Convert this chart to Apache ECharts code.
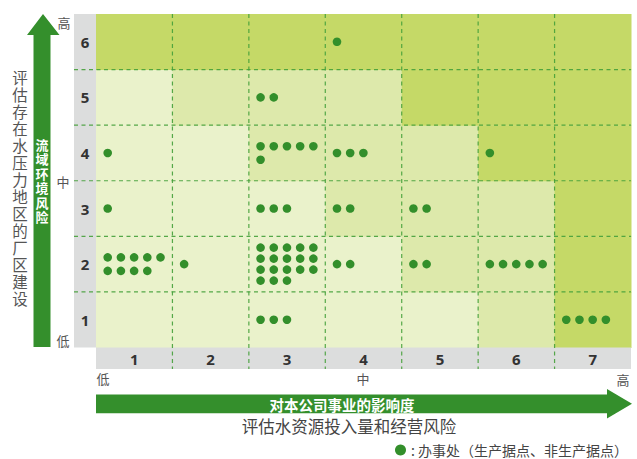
<!DOCTYPE html>
<html>
<head>
<meta charset="utf-8">
<script src="https://cdn.jsdelivr.net/npm/echarts@6/dist/echarts.min.js"></script>
<style>html,body{margin:0;padding:0;background:#fff;}#c{width:637px;height:459px;}</style>
</head>
<body>
<div id="c"></div>
<script>
// ---- data ----
const xLabels = ['1', '2', '3', '4', '5', '6', '7'];
const yLabels = ['1', '2', '3', '4', '5', '6'];
// shade level per cell, row 1 (bottom) to row 6 (top); 0 light, 1 medium, 2 dark
const shadeRow1 = [0, 0, 0, 0, 0, 1, 2];
const shadeRow2 = [0, 0, 0, 0, 1, 1, 2];
const shadeRow3 = [0, 0, 0, 1, 1, 1, 2];
const shadeRow4 = [0, 0, 1, 1, 1, 2, 2];
const shadeRow5 = [0, 1, 1, 1, 2, 2, 2];
const shadeRow6 = [2, 2, 2, 2, 2, 2, 2];
// [column, row, number of offices]
const officeCounts = [
  [4, 6, 1],
  [3, 5, 2],
  [1, 4, 1], [3, 4, 6], [4, 4, 3], [6, 4, 1],
  [1, 3, 1], [3, 3, 3], [4, 3, 2], [5, 3, 2],
  [1, 2, 9], [2, 2, 1], [3, 2, 18], [4, 2, 2], [5, 2, 2], [6, 2, 5],
  [3, 1, 3], [7, 1, 4]
];
const yAxisTitle = '评估存在水压力地区的厂区建设';
const yArrowText = '流域环境风险';
const xArrowText = '对本公司事业的影响度';
const xAxisTitle = '评估水资源投入量和经营风险';
const legendName = ': 办事处（生产据点、非生产据点）';

// ---- styles ----
const shadeColors = ['#eaf2cb', '#dde9ab', '#c5d967'];
const dotColor = '#338f2b';
const arrowColor = '#348f2c';
const lineColor = '#45a03a';
const bandColor = '#dcdddd';
const cjk = "'Noto Sans CJK SC', 'Noto Sans', sans-serif";

const shadeRows = [shadeRow1, shadeRow2, shadeRow3, shadeRow4, shadeRow5, shadeRow6];
const cellData = [];
shadeRows.forEach((row, r) => row.forEach((v, c) => cellData.push([c, r, v])));
const dotData = officeCounts.map(d => [d[0] - 1, d[1] - 1, d[2]]);

// vertical (stacked) text, one element per character
function verticalText(str, cx, top, step, style) {
  return str.split('').map((ch, i) => ({
    type: 'text', z: 10,
    style: Object.assign({text: ch, x: cx, y: top + i * step + step / 2, align: 'center', verticalAlign: 'middle', fontFamily: cjk}, style)
  }));
}

const chart = echarts.init(document.getElementById('c'), null, {renderer: 'svg'});

const option = {
  animation: false,
  grid: {left: 96, top: 14, right: 6, bottom: 111.5},
  xAxis: {
    type: 'category', data: xLabels, z: 5,
    axisLine: {show: false}, axisTick: {show: false}, splitLine: {show: false},
    axisLabel: {margin: 4, fontSize: 15, fontWeight: 'bold', color: '#333', fontFamily: "'Noto Sans', sans-serif"}
  },
  yAxis: {
    type: 'category', data: yLabels, z: 5,
    axisLine: {show: false}, axisTick: {show: false}, splitLine: {show: false},
    axisLabel: {margin: 11, align: 'center', fontSize: 15, fontWeight: 'bold', color: '#333', fontFamily: "'Noto Sans', sans-serif"}
  },
  legend: {
    left: 395, top: 443, padding: 0, selectedMode: false,
    itemWidth: 11, itemHeight: 11, itemGap: 0,
    data: [{name: legendName, icon: 'circle'}],
    textStyle: {fontSize: 14, color: '#444', fontFamily: cjk}
  },
  series: [
    {
      type: 'custom', name: 'cells', z: 1, data: cellData,
      renderItem: function (params, api) {
        const p = api.coord([api.value(0), api.value(1)]);
        const s = api.size([1, 1]);
        return {
          type: 'rect',
          shape: {x: p[0] - s[0] / 2, y: p[1] - s[1] / 2, width: s[0] + 0.5, height: s[1] + 0.5},
          style: {fill: shadeColors[api.value(2)]}
        };
      }
    },
    {
      type: 'custom', name: 'frame', z: 2, data: [[0, 0]], clip: false,
      renderItem: function (params, api) {
        const s = api.size([1, 1]);
        const p0 = api.coord([0, 0]);
        const p1 = api.coord([xLabels.length - 1, yLabels.length - 1]);
        const gl = p0[0] - s[0] / 2, gb = p0[1] + s[1] / 2;
        const gr = p1[0] + s[0] / 2, gt = p1[1] - s[1] / 2;
        const bandW = 22, bandH = 21.5;
        const children = [
          {type: 'rect', shape: {x: gl - bandW, y: gt, width: bandW, height: gb - gt}, style: {fill: bandColor}},
          {type: 'rect', shape: {x: gl, y: gb, width: gr - gl, height: bandH}, style: {fill: bandColor}}
        ];
        const ls = {stroke: lineColor, lineWidth: 1.2, lineDash: [4, 3.5], opacity: 0.9};
        for (let i = 1; i < xLabels.length; i++) {
          const x = gl + i * s[0];
          children.push({type: 'line', shape: {x1: x, y1: gt, x2: x, y2: gb + bandH}, style: ls});
        }
        for (let j = 1; j < yLabels.length; j++) {
          const y = gb - j * s[1];
          children.push({type: 'line', shape: {x1: gl - bandW, y1: y, x2: gr, y2: y}, style: ls});
        }
        return {type: 'group', children: children};
      }
    },
    {
      type: 'custom', name: legendName, z: 3, data: dotData,
      itemStyle: {color: dotColor},
      renderItem: function (params, api) {
        const p = api.coord([api.value(0), api.value(1)]);
        const s = api.size([1, 1]);
        const n = api.value(2);
        const left = p[0] - s[0] / 2;
        const rows = Math.ceil(n / 5);
        const gap = rows > 3 ? 11 : 13.5;
        const y0 = p[1] - (rows - 1) * gap / 2;
        const children = [];
        for (let k = 0; k < n; k++) {
          children.push({
            type: 'circle',
            shape: {cx: left + 11.7 + (k % 5) * 13.2, cy: y0 + Math.floor(k / 5) * gap, r: 4.3},
            style: {fill: dotColor}
          });
        }
        return {type: 'group', children: children};
      }
    }
  ],
  graphic: [
    // vertical arrow
    {type: 'polygon', shape: {points: [[33.5, 347], [33.5, 35], [27, 35], [43, 14], [59.5, 35], [50.5, 35], [50.5, 347]]}, style: {fill: arrowColor}},
    // horizontal arrow
    {type: 'polygon', shape: {points: [[96, 394.5], [607, 394.5], [607, 389], [632, 403.8], [607, 418.5], [607, 413.3], [96, 413.3]]}, style: {fill: arrowColor}},
    {type: 'text', z: 10, style: {text: xArrowText, x: 342, y: 404, fill: '#fff', fontSize: 14.5, fontWeight: 'bold', align: 'center', verticalAlign: 'middle', fontFamily: cjk}},
    {type: 'text', style: {text: xAxisTitle, x: 349, y: 426, fill: '#444', fontSize: 16.5, align: 'center', verticalAlign: 'middle', fontFamily: cjk}},
    // level marks
    {type: 'text', style: {text: '高', x: 64, y: 22, fill: '#555', fontSize: 13, align: 'center', verticalAlign: 'middle', fontFamily: cjk}},
    {type: 'text', style: {text: '中', x: 63, y: 181, fill: '#555', fontSize: 13, align: 'center', verticalAlign: 'middle', fontFamily: cjk}},
    {type: 'text', style: {text: '低', x: 63, y: 340, fill: '#555', fontSize: 13, align: 'center', verticalAlign: 'middle', fontFamily: cjk}},
    {type: 'text', style: {text: '低', x: 103, y: 378.5, fill: '#555', fontSize: 13, align: 'center', verticalAlign: 'middle', fontFamily: cjk}},
    {type: 'text', style: {text: '中', x: 363, y: 378.5, fill: '#555', fontSize: 13, align: 'center', verticalAlign: 'middle', fontFamily: cjk}},
    {type: 'text', style: {text: '高', x: 623, y: 379, fill: '#555', fontSize: 13, align: 'center', verticalAlign: 'middle', fontFamily: cjk}}
  ]
    .concat(verticalText(yArrowText, 42, 137, 14.5, {fill: '#fff', fontSize: 13, fontWeight: 'bold'}))
    .concat(verticalText(yAxisTitle, 20, 68, 17, {fill: '#555', fontSize: 15.5}))
};
chart.setOption(option);
</script>
</body>
</html>
